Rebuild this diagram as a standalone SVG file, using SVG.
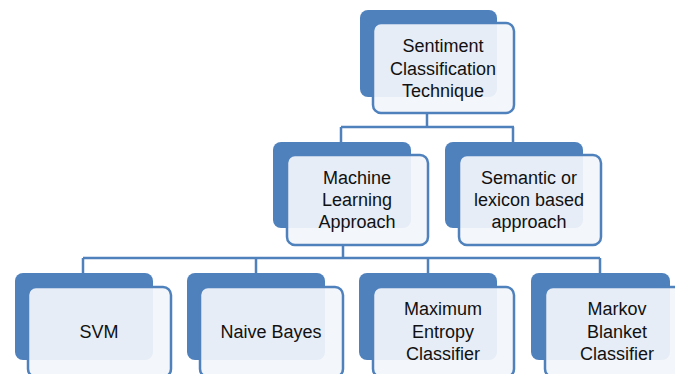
<svg xmlns="http://www.w3.org/2000/svg" width="675" height="374" viewBox="0 0 675 374">
<style>
.back{fill:#4F81BD;stroke:none}
.front{fill:#F2F5FA;fill-opacity:0.93;stroke:#4F81BD;stroke-width:2.5}
.lbl{font-family:"Liberation Sans",Arial,sans-serif;font-size:18px;fill:#111111;text-anchor:middle}
.conn{fill:none;stroke:#4F81BD;stroke-width:2.5}
</style>
<rect width="675" height="374" fill="#ffffff"/>
<g id="connectors">
<path class="conn" d="M427,113 V127 M341,127 H514 M341,127 V142 M513,127 V142"/>
<path class="conn" d="M343,245 V258 M83,258 H600 M83,258 V273 M256,258 V273 M428,258 V273 M600,258 V273"/>
</g>
<g id="n-sentiment">
<rect class="back" x="360" y="10" width="137" height="87" rx="8"/>
<rect class="front" x="373" y="23" width="141" height="90" rx="8"/>
<text class="lbl" x="443" y="52">Sentiment</text>
<text class="lbl" x="443" y="75">Classification</text>
<text class="lbl" x="443" y="97">Technique</text>
</g>
<g id="n-ml">
<rect class="back" x="273" y="142" width="138" height="86" rx="8"/>
<rect class="front" x="287" y="155" width="141" height="90" rx="8"/>
<text class="lbl" x="357" y="184">Machine</text>
<text class="lbl" x="357" y="206">Learning</text>
<text class="lbl" x="357" y="228">Approach</text>
</g>
<g id="n-semantic">
<rect class="back" x="445" y="142" width="138" height="86" rx="8"/>
<rect class="front" x="459" y="155" width="142" height="90" rx="8"/>
<text class="lbl" x="529" y="184">Semantic or</text>
<text class="lbl" x="529" y="206">lexicon based</text>
<text class="lbl" x="529" y="228">approach</text>
</g>
<g id="n-svm">
<rect class="back" x="15" y="273" width="138" height="87" rx="8"/>
<rect class="front" x="28" y="287" width="143" height="90" rx="8"/>
<text class="lbl" x="99" y="338">SVM</text>
</g>
<g id="n-nb">
<rect class="back" x="187" y="273" width="138" height="87" rx="8"/>
<rect class="front" x="200" y="287" width="143" height="90" rx="8"/>
<text class="lbl" x="271" y="338">Naive Bayes</text>
</g>
<g id="n-me">
<rect class="back" x="359" y="273" width="138" height="87" rx="8"/>
<rect class="front" x="373" y="287" width="141" height="90" rx="8"/>
<text class="lbl" x="443" y="315">Maximum</text>
<text class="lbl" x="443" y="338">Entropy</text>
<text class="lbl" x="443" y="360">Classifier</text>
</g>
<g id="n-markov">
<rect class="back" x="531" y="273" width="139" height="87" rx="8"/>
<rect class="front" x="545" y="287" width="143" height="90" rx="8"/>
<text class="lbl" x="617" y="315">Markov</text>
<text class="lbl" x="617" y="338">Blanket</text>
<text class="lbl" x="617" y="360">Classifier</text>
</g>
</svg>
